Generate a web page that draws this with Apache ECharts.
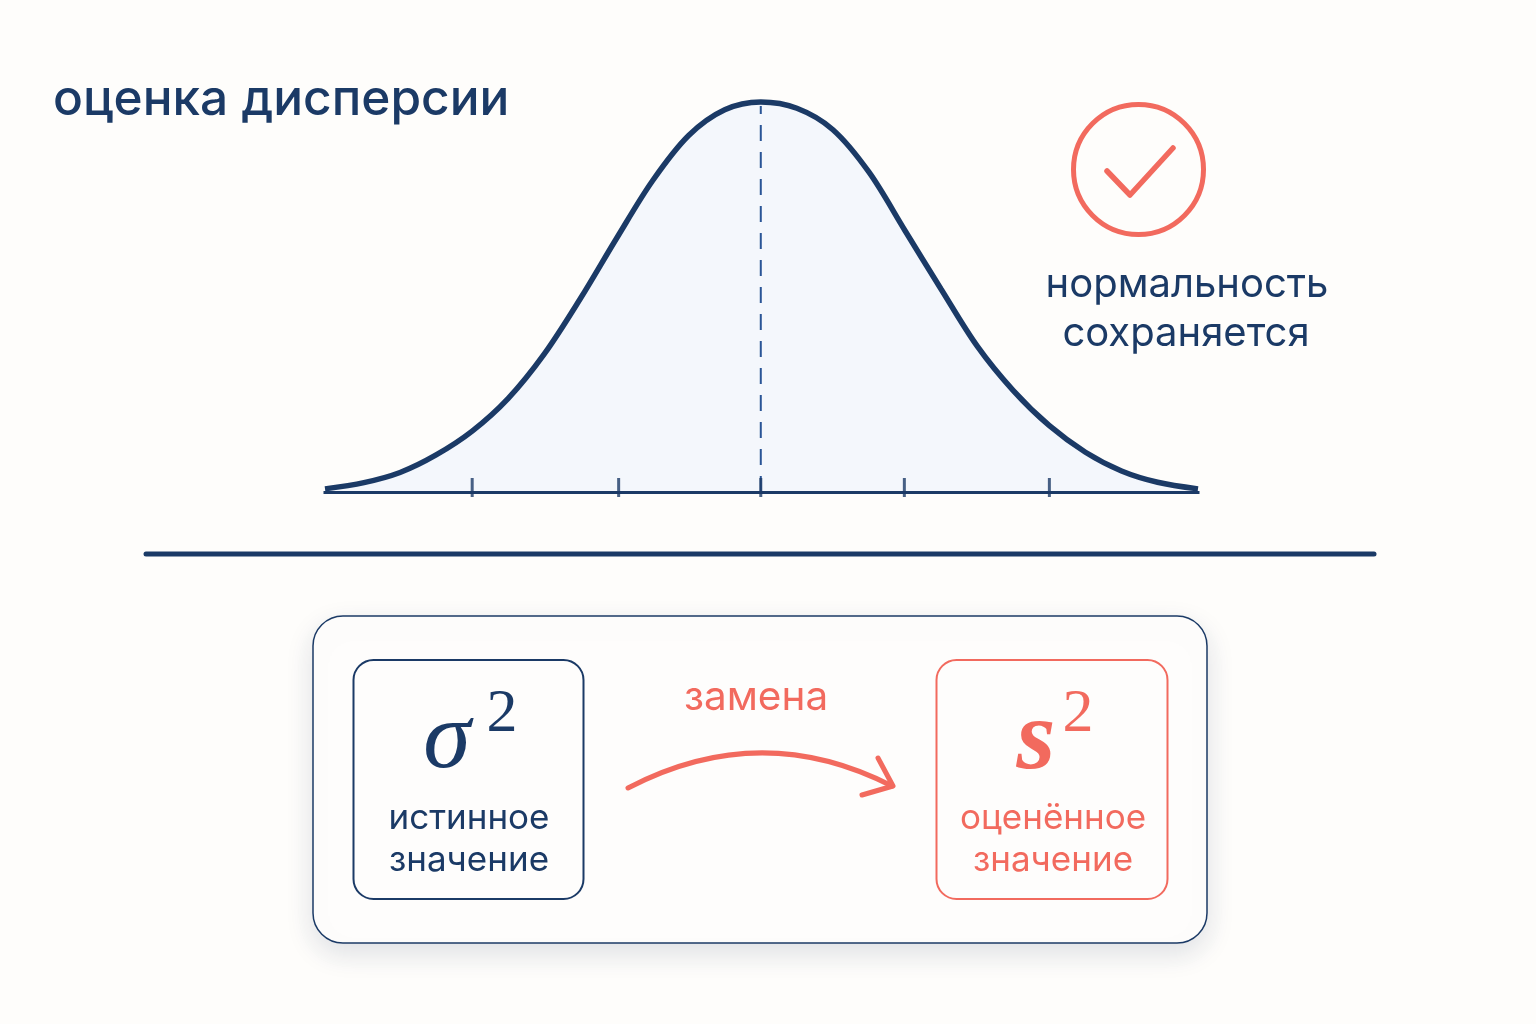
<!DOCTYPE html>
<html lang="ru">
<head>
<meta charset="utf-8">
<style>html,body{margin:0;padding:0;background:#fefdfb}#c{width:1536px;height:1024px}</style>
<script src="https://cdn.jsdelivr.net/npm/echarts@6/dist/echarts.min.js"></script>
</head>
<body>
<div id="c"></div>
<script>
const curveX = [-3.02,-2.75,-2.5,-2.25,-2,-1.75,-1.5,-1.25,-1,-0.75,-0.5,-0.25,0,0.25,0.5,0.75,1,1.25,1.5,1.75,2,2.25,2.5,2.75,3.03];
const curveY = [0.8,2.4,5,9.5,15.6,24,35.4,49.6,65,79.8,91.4,98,100,98.4,92.9,82,67,52,37.4,26,17,10.2,5.4,2.5,0.8];
const tickValues = [-2,-0.985,0,0.995,2];
const tickBase = [0,0,0,0,0];
const meanX = [0,0];
const meanY = [0,99];
const titleText = 'оценка дисперсии';
const statusLines = ['нормальность','сохраняется'];
const leftLines = ['истинное','значение'];
const rightLines = ['оценённое','значение'];
const arrowLabel = 'замена';

const NAVY='#1b3a66', CORAL='#f26a5e', FONT='Inter, "Noto Sans", sans-serif';
const SERIF='"Liberation Serif", serif';
const txt=(x,y,text,fill,size,extra)=>({type:'text',x,y,z:10,style:Object.assign({text,fill,font:`400 ${size}px ${FONT}`,textAlign:'center',textVerticalAlign:'middle'},extra||{})});
const chart=echarts.init(document.getElementById('c'),null,{renderer:'canvas'});
chart.setOption({
  backgroundColor:'#fefdfb',
  animation:false,
  grid:{left:325,top:102,width:873,height:390},
  xAxis:{type:'value',min:-3.02,max:3.03,z:5,splitLine:{show:false},axisLabel:{show:false},axisTick:{show:false},axisLine:{onZero:false,lineStyle:{color:NAVY,width:3,cap:'square'}}},
  yAxis:{type:'value',min:0,max:100,show:false},
  series:[
    {type:'line',name:'fill',z:1,smooth:0.33,symbol:'none',clip:false,lineStyle:{width:0},areaStyle:{color:'#f4f7fc',opacity:1},data:curveX.map((x,i)=>[x,curveY[i]])},
    {type:'line',name:'mean',z:2,symbol:'none',clip:false,lineStyle:{color:'#2a5596',width:2,type:[16,11]},data:meanX.map((x,i)=>[x,meanY[i]])},
    {type:'line',name:'curve',z:3,smooth:0.33,symbol:'none',clip:false,lineStyle:{color:NAVY,width:5.5},data:curveX.map((x,i)=>[x,curveY[i]])},
    {type:'scatter',name:'ticks',z:6,clip:false,symbol:'rect',symbolSize:[3,19],symbolOffset:[0,-4.5],itemStyle:{color:NAVY},data:tickValues.map((x,i)=>[x,tickBase[i]])}
  ],
  graphic:[
    {type:'text',left:53,top:75,z:10,style:{text:titleText,fill:NAVY,font:`500 49.6px ${FONT}`}},
    {type:'line',z:5,shape:{x1:146,y1:554,x2:1374,y2:554},style:{stroke:NAVY,lineWidth:5,lineCap:'round'}},
    {type:'circle',z:5,shape:{cx:1138.5,cy:169.5,r:65},style:{fill:'none',stroke:CORAL,lineWidth:5}},
    {type:'polyline',z:5,shape:{points:[[1107,171],[1130,195],[1173,148]]},style:{fill:'none',stroke:CORAL,lineWidth:5.5,lineCap:'round',lineJoin:'round'}},
    txt(1187,285,statusLines[0],NAVY,40),
    txt(1186,334,statusLines[1],NAVY,40),
    {type:'rect',z:4,shape:{x:313,y:616,width:894,height:327,r:30},style:{fill:'#fefdfc',stroke:NAVY,lineWidth:1.5,shadowBlur:28,shadowOffsetY:10,shadowColor:'rgba(30,50,90,0.14)'}},
    {type:'rect',z:5,shape:{x:353.5,y:660,width:230,height:239,r:20},style:{fill:'#fefdfc',stroke:NAVY,lineWidth:2}},
    {type:'rect',z:5,shape:{x:936.5,y:660,width:231,height:239,r:20},style:{fill:'#fefdfc',stroke:CORAL,lineWidth:2}},
    txt(447,742,'σ',NAVY,96,{font:`italic 400 96px ${SERIF}`}),
    txt(502,715,'2',NAVY,62,{font:`400 62px ${SERIF}`}),
    txt(1036,742,'s',CORAL,100,{font:`italic 700 100px ${SERIF}`}),
    txt(1078,715,'2',CORAL,62,{font:`400 62px ${SERIF}`}),
    txt(469,818,leftLines[0],NAVY,35),
    txt(469,860,leftLines[1],NAVY,35),
    txt(1053,818,rightLines[0],CORAL,35),
    txt(1053,860,rightLines[1],CORAL,35),
    txt(756,698,arrowLabel,CORAL,40.5),
    {type:'bezierCurve',z:5,shape:{x1:628,y1:788,x2:892,y2:786,cpx1:716,cpy1:742,cpx2:804,cpy2:741},style:{fill:'none',stroke:CORAL,lineWidth:5,lineCap:'round'}},
    {type:'polyline',z:5,shape:{points:[[878,758],[893,786],[862,795]]},style:{fill:'none',stroke:CORAL,lineWidth:5,lineCap:'round',lineJoin:'round'}}
  ]
});
</script>
</body>
</html>
